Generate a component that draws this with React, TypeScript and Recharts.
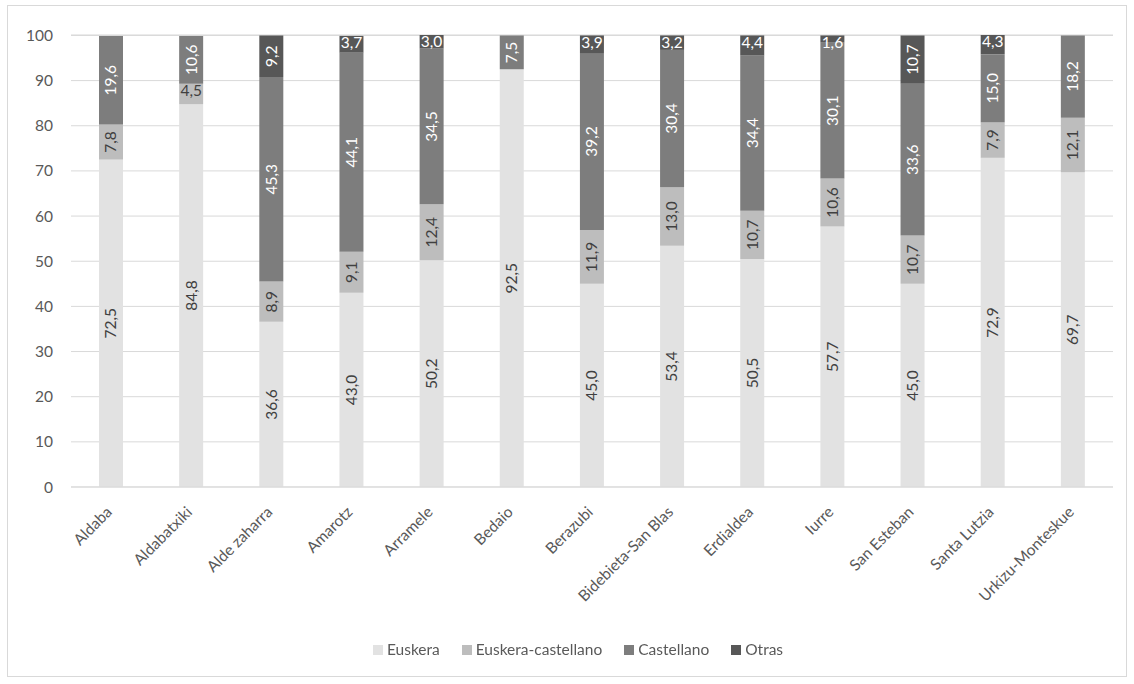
import { BarChart, Bar, XAxis, YAxis, CartesianGrid, Legend, LabelList } from "recharts"

const barrios = [
  "Aldaba",
  "Aldabatxiki",
  "Alde zaharra",
  "Amarotz",
  "Arramele",
  "Bedaio",
  "Berazubi",
  "Bidebieta-San Blas",
  "Erdialdea",
  "Iurre",
  "San Esteban",
  "Santa Lutzia",
  "Urkizu-Monteskue",
]

const euskera = [72.5, 84.8, 36.6, 43.0, 50.2, 92.5, 45.0, 53.4, 50.5, 57.7, 45.0, 72.9, 69.7]
const euskeraCastellano = [7.8, 4.5, 8.9, 9.1, 12.4, null, 11.9, 13.0, 10.7, 10.6, 10.7, 7.9, 12.1]
const castellano = [19.6, 10.6, 45.3, 44.1, 34.5, 7.5, 39.2, 30.4, 34.4, 30.1, 33.6, 15.0, 18.2]
const otras = [null, null, 9.2, 3.7, 3.0, null, 3.9, 3.2, 4.4, 1.6, 10.7, 4.3, null]

const yTicks = [0, 10, 20, 30, 40, 50, 60, 70, 80, 90, 100]

const data = barrios.map((name, i) => ({
  name,
  euskera: euskera[i],
  euskeraCastellano: euskeraCastellano[i],
  castellano: castellano[i],
  otras: otras[i],
}))

const series = [
  { key: "euskera", label: "Euskera", color: "#e2e2e2", text: "#404040" },
  { key: "euskeraCastellano", label: "Euskera-castellano", color: "#bdbdbd", text: "#404040" },
  { key: "castellano", label: "Castellano", color: "#7d7d7d", text: "#ffffff" },
  { key: "otras", label: "Otras", color: "#575757", text: "#ffffff" },
]

const FONT = "Lato, 'Liberation Sans', sans-serif"
const FS = 15.5
const fmt = (v: number) => v.toFixed(1).replace(".", ",")

const makeLabel = (fill: string) => (props: any) => {
  const { x, y, width, height, value } = props
  if (value == null) return null
  const cx = x + width / 2
  const cy = y + height / 2
  if (Math.abs(height) < 28) {
    return (
      <text x={cx} y={y} dy="0.8em" textAnchor="middle" fill={fill} fontSize={FS} fontFamily={FONT}>
        {fmt(value)}
      </text>
    )
  }
  return (
    <text
      x={cx}
      y={cy}
      dy="0.35em"
      textAnchor="middle"
      transform={`rotate(-90 ${cx} ${cy})`}
      fill={fill}
      fontSize={FS}
      fontFamily={FONT}
    >
      {fmt(value)}
    </text>
  )
}

const CategoryTick = (props: any) => {
  const { x, y, payload } = props
  const tx = x + 2
  const ty = y + 18
  return (
    <text
      x={tx}
      y={ty}
      transform={`rotate(-45 ${tx} ${ty})`}
      textAnchor="end"
      fill="#595959"
      fontSize={FS}
      fontFamily={FONT}
    >
      {payload.value}
    </text>
  )
}

const LegendBox = () => (
  <div
    style={{
      display: "flex",
      justifyContent: "center",
      gap: 22,
      paddingLeft: 22,
      fontFamily: FONT,
      fontSize: FS,
      lineHeight: "19px",
      color: "#595959",
    }}
  >
    {series.map((s) => (
      <div key={s.key} style={{ display: "flex", alignItems: "center" }}>
        <span style={{ width: 10, height: 10, background: s.color, marginRight: 4, display: "inline-block" }} />
        {s.label}
      </div>
    ))}
  </div>
)

export default function App() {
  return (
    <div
      style={{
        position: "fixed",
        left: 7,
        top: 5,
        width: 1118,
        height: 670,
        border: "1px solid #d9d9d9",
        background: "#fff",
      }}
    >
      <BarChart width={1118} height={670} data={data} margin={{ top: 29, right: 13, left: 0, bottom: 16 }} barSize={24}>
        <CartesianGrid vertical={false} stroke="#d9d9d9" />
        <XAxis
          dataKey="name"
          interval={0}
          height={130}
          tickLine={false}
          axisLine={{ stroke: "#d9d9d9" }}
          tick={<CategoryTick />}
        />
        <YAxis
          domain={[0, 100]}
          ticks={yTicks}
          width={63}
          tickLine={false}
          axisLine={false}
          tickSize={0}
          tickMargin={18}
          tick={{ fill: "#595959", fontSize: FS, fontFamily: FONT }}
        />
        <Legend
          verticalAlign="bottom"
          height={43}
          content={<LegendBox />}
          wrapperStyle={{ top: 634, left: 0, width: 1118 }}
        />
        {series.map((s) => (
          <Bar key={s.key} dataKey={s.key} name={s.label} stackId="a" fill={s.color} isAnimationActive={false}>
            <LabelList dataKey={s.key} content={makeLabel(s.text)} />
          </Bar>
        ))}
      </BarChart>
    </div>
  )
}
